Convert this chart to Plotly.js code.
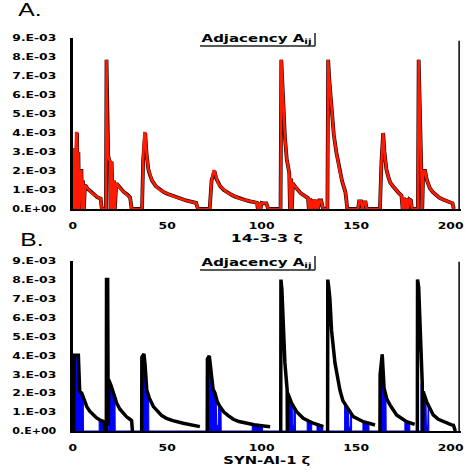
<!DOCTYPE html>
<html>
<head>
<meta charset="utf-8">
<script src="https://cdn.plot.ly/plotly-3.0.1.min.js"></script>
<style>html,body{margin:0;padding:0;background:#fff;}#chart{width:466px;height:472px;}</style>
</head>
<body>
<div id="chart"></div>
<script>
// ---- Panel A: 14-3-3 zeta adjacency (residue index vs A_ij) ----
const topX = [0, 0.8, 1.2, 1.8, 2.3, 2.6, 3.0, 3.4, 3.8, 4.6, 5.0, 5.5, 5.9, 6.5, 7.0, 8, 9, 10, 11, 12, 13, 14, 14.8, 15.4,
  17.6, 17.9, 18.3, 18.8, 19.3, 19.7, 20.0, 20.6, 21.2, 21.8, 22.3, 23.0, 23.6, 25, 27, 29, 30.4, 31.2,
  36.7, 37.3, 37.9, 38.4, 39, 40, 41, 42, 44, 46, 48, 50, 52, 54, 56, 58, 60, 62, 64, 65.3, 66.3,
  72.5, 73.5, 74.5, 75, 76, 77, 78, 80, 82, 84, 86, 88, 90, 92, 94, 96, 97.5, 98, 98.7, 99.4, 100, 101, 102.5, 103.5,
  110.0, 110.4, 110.9, 111.5, 112.3, 113.3, 114.2, 114.6, 115.0, 115.6, 116.0, 116.5, 117.5, 119, 120.5, 122, 123.5, 124.5, 125, 125.7, 126.5, 127.5, 128.2, 129, 129.8, 130.6, 131.5, 132.5,
  134.8, 135.2, 135.8, 136.5, 137.3, 138.2, 139.5, 140.5, 141.5, 142.5, 143.5, 144.3, 144.8, 145.3,
  151, 151.6, 152.6, 153.3, 154.2, 155, 155.6,
  162.6, 163.4, 163.9, 164.3, 165, 166, 167, 168, 169.5, 171, 172.5, 174, 174.6, 175.3, 176, 176.7, 177.4, 178.2, 179, 179.5,
  182.7, 183.1, 183.6, 184.1, 184.6, 185.0, 185.5, 186.5, 187.5, 189, 190.5, 192, 194, 196, 198, 200, 201, 201.7];
const topY = [0, 3.2e-3, 0, 4.0e-3, 4.0e-3, 0, 3.0e-3, 0, 2.0e-3, 2.0e-3, 0, 1.5e-3, 0, 1.2e-3, 1.2e-3, 1.05e-3, 0.95e-3, 0.85e-3, 0.78e-3, 0.7e-3, 0.62e-3, 0.58e-3, 0.55e-3, 0,
  0, 7.85e-3, 4.5e-3, 2.8e-3, 2.6e-3, 2.5e-3, 0, 2.5e-3, 0, 1.5e-3, 0, 1.3e-3, 1.3e-3, 1.1e-3, 0.9e-3, 0.75e-3, 0.6e-3, 0,
  0, 2.6e-3, 4.0e-3, 4.0e-3, 3.0e-3, 2.1e-3, 1.75e-3, 1.5e-3, 1.2e-3, 1.02e-3, 0.9e-3, 0.8e-3, 0.72e-3, 0.65e-3, 0.57e-3, 0.5e-3, 0.45e-3, 0.4e-3, 0.36e-3, 0.32e-3, 0,
  0, 1.5e-3, 2.0e-3, 2.0e-3, 1.6e-3, 1.35e-3, 1.2e-3, 1.0e-3, 0.85e-3, 0.75e-3, 0.65e-3, 0.57e-3, 0.5e-3, 0.45e-3, 0.4e-3, 0.37e-3, 0.33e-3, 0, 0.33e-3, 0, 0.32e-3, 0.3e-3, 0.3e-3, 0,
  0, 7.85e-3, 6.5e-3, 5.0e-3, 3.8e-3, 2.6e-3, 2.1e-3, 1.9e-3, 0, 1.6e-3, 0, 1.35e-3, 1.2e-3, 1.0e-3, 0.85e-3, 0.74e-3, 0.63e-3, 0.57e-3, 0, 0.55e-3, 0, 0.5e-3, 0, 0.48e-3, 0, 0.45e-3, 0.45e-3, 0,
  0, 7.85e-3, 6.8e-3, 5.8e-3, 4.8e-3, 3.9e-3, 3.0e-3, 2.4e-3, 1.9e-3, 1.5e-3, 1.15e-3, 0.9e-3, 0.5e-3, 0,
  0, 0.4e-3, 0.4e-3, 0, 0.35e-3, 0.35e-3, 0,
  0, 2.5e-3, 4.0e-3, 4.0e-3, 3.0e-3, 2.1e-3, 1.7e-3, 1.4e-3, 1.2e-3, 1.0e-3, 0.85e-3, 0.7e-3, 0, 0.6e-3, 0, 0.55e-3, 0, 0.5e-3, 0.45e-3, 0,
  0, 7.85e-3, 6.0e-3, 4.0e-3, 2.4e-3, 0, 2.0e-3, 2.0e-3, 1.5e-3, 1.1e-3, 0.9e-3, 0.75e-3, 0.6e-3, 0.5e-3, 0.42e-3, 0.35e-3, 0.3e-3, 0];

// ---- Panel B: SYN-AI-1 zeta adjacency; black envelope + blue filled parts ----
const envX = [0.5, 0.7, 3.0, 3.7, 4.8, 5.6, 7.4, 9, 10.9, 12.5, 14.4, 16.7, 16.9, null,
  17.8, 17.9, 18.5, 18.8, 19.1, 20.3, 21.5, 23.3, 25, 26.8, 28.5, 30.3, 31.2, 31.6, null,
  36.5, 36.6, 37.7, 38.3, 39.2, 40.5, 42.7, 45, 47, 49.6, 53, 58.5, 63, 67.3, null,
  71.2, 71.3, 72.3, 73.5, 74.3, 75.3, 76.5, 77.9, 80, 82.5, 85, 88, 92, 96, 100, 104.5, null,
  110.1, 110.2, 110.7, 111.4, 112.3, 113.5, 113.6, 113.8, 115.9, 118.5, 122, 127.3, 132.6, null,
  134.9, 135.0, 135.5, 136.1, 137, 138.8, 141.4, 143, 145, 148.5, 153.8, 160, null,
  162.6, 162.7, 163.8, 164.8, 166.2, 167.9, 171.4, 176.7, 181, null,
  182.4, 182.5, 183.1, 183.7, 184.4, 185.0, 185.1, 185.5, 187.3, 190.8, 193.5, 196.1, 200.5, 201.5, 202.5];
const envY = [0, 4.0e-3, 4.0e-3, 2.1e-3, 2.0e-3, 1.8e-3, 1.3e-3, 1.05e-3, 0.85e-3, 0.7e-3, 0.58e-3, 0.49e-3, 0, null,
  0, 8.0e-3, 8.0e-3, 0.3e-3, 2.7e-3, 2.4e-3, 2.0e-3, 1.46e-3, 1.15e-3, 0.94e-3, 0.75e-3, 0.62e-3, 0.55e-3, 0, null,
  0, 3.9e-3, 4.07e-3, 3.5e-3, 2.17e-3, 1.75e-3, 1.29e-3, 1.0e-3, 0.82e-3, 0.67e-3, 0.55e-3, 0.41e-3, 0.31e-3, 0.23e-3, null,
  0, 3.8e-3, 3.97e-3, 3.0e-3, 2.2e-3, 2.0e-3, 1.55e-3, 1.29e-3, 1.0e-3, 0.8e-3, 0.62e-3, 0.5e-3, 0.4e-3, 0.33e-3, 0.28e-3, 0.23e-3, null,
  0, 8.0e-3, 7.5e-3, 6.05e-3, 3.6e-3, 2.17e-3, 0, 2.0e-3, 1.46e-3, 1.02e-3, 0.67e-3, 0.41e-3, 0.23e-3, null,
  0, 8.0e-3, 7.6e-3, 7.0e-3, 5.3e-3, 3.6e-3, 2.17e-3, 1.6e-3, 1.29e-3, 0.76e-3, 0.49e-3, 0.32e-3, null,
  0, 3.0e-3, 4.05e-3, 2.26e-3, 1.7e-3, 1.38e-3, 0.85e-3, 0.49e-3, 0.35e-3, null,
  0, 8.0e-3, 7.6e-3, 5.8e-3, 4.0e-3, 2.5e-3, 0, 2.08e-3, 1.55e-3, 0.85e-3, 0.62e-3, 0.49e-3, 0.32e-3, 0.3e-3, 0];
const blueX = [0.6, 0.7, 3.0, 3.7, 4.8, 5.6, 5.7,
  14.0, 14.0, 16.5, 16.5,
  18.8, 18.9, 19.6, 20.5, 21.5, 22.4, 22.5,
  37.0, 37.1, 37.8, 38.5, 39.2, 40.2, 40.3,
  71.4, 71.5, 72.5, 73.6, 74.4, 75.5, 76.0, 76.2, 77.0, 77.2, 78.5, 78.6,
  95, 95, 100.5, 100.5,
  113.4, 113.5, 114.8, 115.8, 116.2, 116.3, 117.0, 117.1, 117.8, 117.9,
  124.1, 124.1, 126.5, 126.5,
  129.3, 129.3, 130.6, 130.7, 131.2, 131.3, 132.4, 132.4,
  143.9, 143.9, 145.3, 145.9, 146.1, 146.8, 147.0, 147.6, 147.6,
  153.6, 153.6, 156.8, 156.8,
  163.0, 163.2, 163.8, 164.8, 165.8, 165.9,
  175.8, 175.8, 178.4, 178.4,
  184.3, 184.4, 185.5, 186.5, 187.0, 187.2, 187.9, 188.1, 188.4, 188.5];
const blueY = [0, 4.0e-3, 4.0e-3, 2.1e-3, 2.0e-3, 1.8e-3, 0,
  0, 0.57e-3, 0.5e-3, 0,
  0, 2.8e-3, 2.65e-3, 2.3e-3, 2.0e-3, 1.6e-3, 0,
  0, 3.9e-3, 4.05e-3, 3.3e-3, 2.17e-3, 1.9e-3, 0,
  0, 3.9e-3, 3.97e-3, 2.9e-3, 2.1e-3, 1.9e-3, 1.6e-3, 0.3e-3, 0.3e-3, 1.35e-3, 1.2e-3, 0,
  0, 0.34e-3, 0.29e-3, 0,
  0, 2.17e-3, 1.8e-3, 1.5e-3, 1.45e-3, 0.3e-3, 0.3e-3, 1.25e-3, 1.15e-3, 0,
  0, 0.55e-3, 0.47e-3, 0,
  0, 0.4e-3, 0.36e-3, 0.1e-3, 0.1e-3, 0.33e-3, 0.3e-3, 0,
  0, 1.45e-3, 1.2e-3, 1.1e-3, 0.2e-3, 0.2e-3, 0.95e-3, 0.85e-3, 0,
  0, 0.5e-3, 0.42e-3, 0,
  0, 3.6e-3, 4.05e-3, 2.3e-3, 1.9e-3, 0,
  0, 0.56e-3, 0.47e-3, 0,
  0, 2.5e-3, 2.1e-3, 1.75e-3, 1.6e-3, 0.3e-3, 0.3e-3, 1.35e-3, 1.3e-3, 0];

// ---- axis labels / tick labels ----
const yTickVals = [0, 1e-3, 2e-3, 3e-3, 4e-3, 5e-3, 6e-3, 7e-3, 8e-3, 9e-3];
const yTickText = ['0.E+00', '1.E-03', '2.E-03', '3.E-03', '4.E-03', '5.E-03', '6.E-03', '7.E-03', '8.E-03', '9.E-03'];
const xTickVals = [0, 50, 100, 150, 200];
const xTitleTop = '14-3-3 ζ';
const xTitleBottom = 'SYN-AI-1 ζ';
const panelLabels = ['A.', 'B.'];
const legendText = 'Adjacency A<sub>ij</sub>';
const rightEdgeX = 204.5;
const rightEdgeTop = [8.85e-3, 8.95e-3];

const W = 466, H = 472;
const py = p => 1 - p / H;
const px = p => p / W;

const boldFont = {family: 'DejaVu Sans, sans-serif', size: 9.5, color: '#000', weight: 'bold'};
const titleFont = {family: 'DejaVu Sans, sans-serif', size: 10.5, color: '#000', weight: 'bold'};

function xAxisCfg(anchor, title) {
  return {
    anchor: anchor, domain: [px(72.7), px(461)], range: [0, 205.5],
    tickvals: xTickVals, ticks: '', showgrid: false, zeroline: false,
    showline: true, linecolor: '#000', linewidth: 2,
    tickfont: boldFont, ticklabelstandoff: 7,
    title: {text: title, font: titleFont, standoff: 4},
    fixedrange: true
  };
}
function yAxisCfg(anchor, dom) {
  return {
    anchor: anchor, domain: dom, range: [0, 9e-3],
    tickvals: yTickVals, ticktext: yTickText, ticks: '', showgrid: false, zeroline: false,
    showline: true, linecolor: '#000', linewidth: 2.5,
    tickfont: boldFont, ticklabelstandoff: 12, fixedrange: true
  };
}

const traces = [
  {x: topX, y: topY, xaxis: 'x', yaxis: 'y', mode: 'lines', line: {color: '#1a0000', width: 3.8}, hoverinfo: 'skip'},
  {x: topX, y: topY, xaxis: 'x', yaxis: 'y', mode: 'lines', line: {color: '#ff1a00', width: 2.6}, hoverinfo: 'skip'},
  {x: blueX, y: blueY, xaxis: 'x2', yaxis: 'y2', mode: 'lines', fill: 'tozeroy', fillcolor: '#0000ff', line: {color: '#0000ff', width: 1}, hoverinfo: 'skip'},
  {x: envX, y: envY, xaxis: 'x2', yaxis: 'y2', mode: 'lines', connectgaps: false, line: {color: '#000', width: 3.5}, hoverinfo: 'skip'}
];

const layout = {
  width: W, height: H, autosize: false,
  margin: {l: 0, r: 0, t: 0, b: 0},
  paper_bgcolor: '#fff', plot_bgcolor: '#fff',
  showlegend: false,
  xaxis: xAxisCfg('y', xTitleTop),
  yaxis: yAxisCfg('x', [py(209), py(38)]),
  xaxis2: xAxisCfg('y2', xTitleBottom),
  yaxis2: yAxisCfg('x2', [py(431), py(260.7)]),
  annotations: [
    {text: panelLabels[0], xref: 'paper', yref: 'paper', x: px(30), y: py(10), xanchor: 'center', yanchor: 'middle', showarrow: false, font: {family: 'Liberation Sans, Arial, sans-serif', size: 19, color: '#000'}},
    {text: panelLabels[1], xref: 'paper', yref: 'paper', x: px(32), y: py(239), xanchor: 'center', yanchor: 'middle', showarrow: false, font: {family: 'Liberation Sans, Arial, sans-serif', size: 19, color: '#000'}},
    {text: legendText, xref: 'paper', yref: 'paper', x: px(256), y: py(39), xanchor: 'center', yanchor: 'middle', showarrow: false, font: titleFont},
    {text: legendText, xref: 'paper', yref: 'paper', x: px(256), y: py(263), xanchor: 'center', yanchor: 'middle', showarrow: false, font: titleFont}
  ],
  shapes: [
    {type: 'line', xref: 'paper', yref: 'paper', x0: px(200), x1: px(315), y0: py(46), y1: py(46), line: {color: '#222', width: 1.5}},
    {type: 'line', xref: 'paper', yref: 'paper', x0: px(315), x1: px(315), y0: py(46), y1: py(33), line: {color: '#222', width: 1.5}},
    {type: 'line', xref: 'paper', yref: 'paper', x0: px(200), x1: px(315), y0: py(270), y1: py(270), line: {color: '#222', width: 1.5}},
    {type: 'line', xref: 'paper', yref: 'paper', x0: px(315), x1: px(315), y0: py(270), y1: py(256), line: {color: '#222', width: 1.5}},
    {type: 'line', xref: 'x', yref: 'y', x0: rightEdgeX, x1: rightEdgeX, y0: 0, y1: rightEdgeTop[0], line: {color: '#000', width: 1.5}},
    {type: 'line', xref: 'x2', yref: 'y2', x0: rightEdgeX, x1: rightEdgeX, y0: 0, y1: rightEdgeTop[1], line: {color: '#000', width: 1.5}}
  ]
};

// The reference typesetting is horizontally stretched; widen the real SVG text to match.
function stretchText(gd) {
  const setLen = (el, len) => {
    if (!el || !isFinite(len) || len <= 0) return;
    el.setAttribute('textLength', len.toFixed(1));
    el.setAttribute('lengthAdjust', 'spacingAndGlyphs');
  };
  gd.querySelectorAll('.ytick text, .y2tick text').forEach(t => setLen(t, 44));
  gd.querySelectorAll('.xtick text, .x2tick text').forEach(t => setLen(t, t.getComputedTextLength() * 1.3));
  gd.querySelectorAll('.g-xtitle text').forEach(t => setLen(t, 72));
  gd.querySelectorAll('.g-x2title text').forEach(t => setLen(t, 87));
  gd.querySelectorAll('.annotation-text').forEach(t => {
    if (t.textContent.indexOf('Adjacency') >= 0) setLen(t, 110);
    else setLen(t, t.getComputedTextLength() * 1.3);
  });
}

Plotly.newPlot('chart', traces, layout, {staticPlot: true, displayModeBar: false}).then(stretchText);
</script>
</body>
</html>
